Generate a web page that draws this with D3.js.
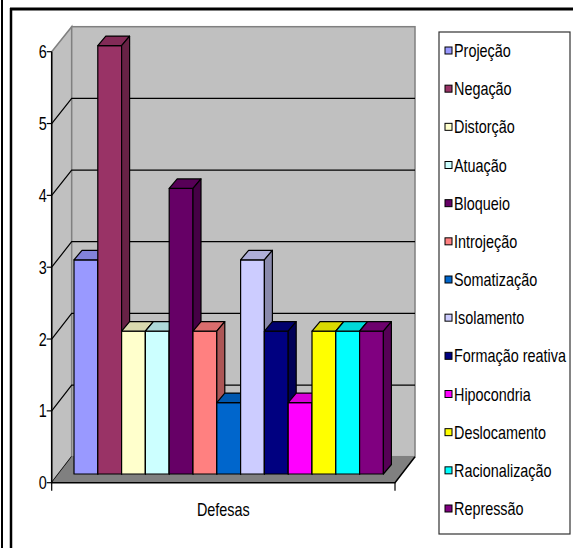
<!DOCTYPE html>
<html>
<head>
  <meta charset='utf-8'>
  <title>Defesas</title>
  <script src="https://cdnjs.cloudflare.com/ajax/libs/d3/7.8.5/d3.min.js"></script>
  <style>
    html, body { margin: 0; padding: 0; background: #fff; }
    svg { display: block; }
    text { font-family: 'Liberation Sans', Arial, sans-serif; font-size: 18px; fill: #000; }
  </style>
</head>
<body>
<script>
var categories = ['Projeção', 'Negação', 'Distorção', 'Atuação', 'Bloqueio', 'Introjeção',
  'Somatização', 'Isolamento', 'Formação reativa', 'Hipocondria', 'Deslocamento',
  'Racionalização', 'Repressão'];
var values = [3, 6, 2, 2, 4, 2, 1, 3, 2, 1, 2, 2, 2];
var colors = ['#9999FF', '#993366', '#FFFFCC', '#CCFFFF', '#660066', '#FF8080',
  '#0066CC', '#CCCCFF', '#000080', '#FF00FF', '#FFFF00', '#00FFFF', '#800080'];
var yTicks = [0, 1, 2, 3, 4, 5, 6];
var xLabel = 'Defesas';

var width = 573, height = 548;
var squeeze = 0.8; // the original text is horizontally narrow

var svg = d3.select('body').append('svg')
  .attr('width', width)
  .attr('height', height);

// outer frame
svg.append('line').attr('x1', 2).attr('x2', 2).attr('y1', 0).attr('y2', height)
  .attr('stroke', '#000').attr('stroke-width', 2);
svg.append('line').attr('x1', 11).attr('x2', 11).attr('y1', 8).attr('y2', height)
  .attr('stroke', '#000').attr('stroke-width', 2.5);
svg.append('line').attr('x1', 10).attr('x2', width).attr('y1', 9).attr('y2', 9)
  .attr('stroke', '#000').attr('stroke-width', 3);

// 3d box geometry
var x0 = 51.7, x1 = 395, dx = 20, dy = -26;
var yFront = d3.scaleLinear().domain([0, 6]).range([482.7, 51.7]);
var yBack = d3.scaleLinear().domain([0, 6]).range([456.7, 26.7]);
var yBar = d3.scaleLinear().domain([0, 6]).range([474, 45.6]);
var x = d3.scaleBand().domain(categories).range([74, 383.4]).padding(0);
var color = d3.scaleOrdinal().domain(categories).range(colors);
var bdx = 8, bdy = -9.5;

function poly(pts) { return 'M' + pts.map(p => p.join(',')).join('L') + 'Z'; }

// left wall
svg.append('path')
  .attr('d', poly([[x0, yFront(6)], [x0 + dx, yBack(6)], [x0 + dx, yBack(0)], [x0, yFront(0)]]))
  .attr('fill', '#c0c0c0').attr('stroke', '#808080').attr('stroke-width', 1.5);
// back wall
svg.append('rect')
  .attr('x', x0 + dx).attr('y', yBack(6))
  .attr('width', x1 - x0).attr('height', yBack(0) - yBack(6))
  .attr('fill', '#c0c0c0').attr('stroke', '#808080').attr('stroke-width', 1.5);

// gridlines
var grid = svg.append('g').attr('stroke', '#000').attr('stroke-width', 1.2).attr('fill', 'none');
grid.selectAll('.gl').data(yTicks.filter(d => d > 0 && d < 6)).enter().append('path')
  .attr('d', d => 'M' + x0 + ',' + yFront(d) + 'L' + (x0 + dx) + ',' + yBack(d) +
    'L' + (x1 + dx) + ',' + yBack(d));
grid.append('path')
  .attr('d', 'M' + x0 + ',' + yFront(0) + 'L' + (x0 + dx) + ',' + yBack(0));

// floor
svg.append('path')
  .attr('d', poly([[x0, yFront(0)], [x1, yFront(0)], [x1 + dx, yBack(0)], [x0 + dx, yBack(0)]]))
  .attr('fill', '#808080').attr('stroke', 'none');
svg.append('path')
  .attr('d', 'M' + x0 + ',' + yFront(0) + 'L' + x1 + ',' + yFront(0) + 'L' + (x1 + dx) + ',' + yBack(0))
  .attr('fill', 'none').attr('stroke', '#000').attr('stroke-width', 1.5);

// bars
var bar = svg.selectAll('.bar')
  .data(categories.map((c, i) => ({ name: c, value: values[i] })))
  .enter().append('g')
  .attr('class', 'bar')
  .attr('stroke', '#000').attr('stroke-width', 1.2).attr('stroke-linejoin', 'round');

bar.append('rect')
  .attr('x', d => x(d.name)).attr('y', d => yBar(d.value))
  .attr('width', x.bandwidth()).attr('height', d => yBar(0) - yBar(d.value))
  .attr('fill', d => color(d.name));
bar.append('path')
  .attr('d', d => {
    var l = x(d.name), r = l + x.bandwidth(), t = yBar(d.value);
    return poly([[l, t], [l + bdx, t + bdy], [r + bdx, t + bdy], [r, t]]);
  })
  .attr('fill', d => d3.color(color(d.name)).darker(0.45));
bar.append('path')
  .attr('d', d => {
    var r = x(d.name) + x.bandwidth(), t = yBar(d.value), b = yBar(0);
    return poly([[r, t], [r + bdx, t + bdy], [r + bdx, b + bdy], [r, b]]);
  })
  .attr('fill', d => d3.color(color(d.name)).darker(1.1));

// y axis
svg.append('line')
  .attr('x1', x0).attr('x2', x0).attr('y1', yFront(6)).attr('y2', yFront(0))
  .attr('stroke', '#000').attr('stroke-width', 1.5);
var yt = svg.selectAll('.ytick').data(yTicks).enter().append('g')
  .attr('class', 'ytick')
  .attr('transform', d => 'translate(0,' + yFront(d) + ')');
yt.append('line').attr('x1', x0 - 5).attr('x2', x0).attr('stroke', '#000').attr('stroke-width', 1.2);
yt.append('text')
  .attr('transform', 'translate(' + (x0 - 5) + ',6.5) scale(' + squeeze + ',1)')
  .attr('text-anchor', 'end')
  .text(d => d);

// x axis ticks and label
svg.selectAll('.xtick').data([x0, x1]).enter().append('line')
  .attr('x1', d => d).attr('x2', d => d).attr('y1', yFront(0)).attr('y2', yFront(0) + 8)
  .attr('stroke', '#000').attr('stroke-width', 1.2);
svg.append('text')
  .attr('transform', 'translate(' + ((x0 + x1) / 2) + ',516) scale(' + squeeze + ',1)')
  .attr('text-anchor', 'middle')
  .text(xLabel);

// legend
var legX = 439, legY = 32, legW = 131, legH = 502;
svg.append('rect')
  .attr('x', legX).attr('y', legY).attr('width', legW).attr('height', legH)
  .attr('fill', '#fff').attr('stroke', '#333').attr('stroke-width', 1.2);
var ly = d3.scalePoint().domain(categories).range([50.5, 508.5]);
var item = svg.selectAll('.leg').data(categories).enter().append('g')
  .attr('class', 'leg')
  .attr('transform', d => 'translate(' + legX + ',' + ly(d) + ')');
item.append('rect')
  .attr('x', 6).attr('y', -3.5).attr('width', 7).attr('height', 7)
  .attr('fill', d => color(d)).attr('stroke', '#000').attr('stroke-width', 1);
item.append('text')
  .attr('transform', 'translate(15,6.5) scale(' + squeeze + ',1)')
  .text(d => d);
</script>
</body>
</html>
